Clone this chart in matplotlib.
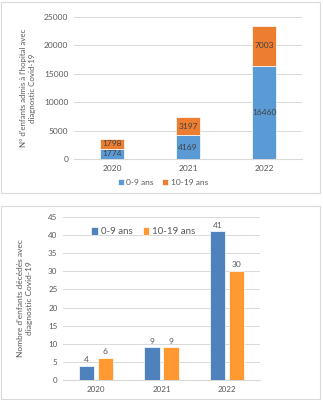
import matplotlib
matplotlib.use("Agg")
import matplotlib.pyplot as plt
import matplotlib.patches as mpatches
import numpy as np

plt.rcParams["font.family"] = ["Lato", "DejaVu Sans"]

years = ["2020", "2021", "2022"]
admis_0_9 = [1774, 4169, 16460]
admis_10_19 = [1798, 3197, 7003]
deces_0_9 = [4, 9, 41]
deces_10_19 = [6, 9, 30]
series_labels = ["0-9 ans", "10-19 ans"]

TXT = "#595959"
GRID = "#D9D9D9"

fig = plt.figure(figsize=(3.23, 4.0), dpi=100, facecolor="white")

# panel frames
for (x0, y0, x1, y1) in [(1, 2, 320, 193), (1, 206, 320, 399)]:
    fig.patches.append(mpatches.Rectangle(
        (x0 / 323, 1 - y1 / 400), (x1 - x0) / 323, (y1 - y0) / 400,
        transform=fig.transFigure, fill=False, edgecolor="#D9D9D9", lw=0.8))

# ── top: stacked bars ───────────────────────────────────────────────
ax1 = fig.add_axes([0.229, 0.6025, 0.706, 0.355])
x = np.arange(len(years))
c_blue, c_orange = "#5B9BD5", "#ED7D31"
b1 = ax1.bar(x, admis_0_9, 0.31, color=c_blue, edgecolor="white", lw=0.5,
             label=series_labels[0], zorder=3)
b2 = ax1.bar(x, admis_10_19, 0.31, bottom=admis_0_9, color=c_orange,
             edgecolor="white", lw=0.5, label=series_labels[1], zorder=3)
for bars in (b1, b2):
    for r in bars:
        ax1.text(r.get_x() + r.get_width() / 2, r.get_y() + r.get_height() / 2,
                 f"{int(r.get_height())}", ha="center", va="center",
                 fontsize=6, color="#404040", zorder=4)
ax1.set_ylim(0, 25000)
ax1.set_yticks(range(0, 25001, 5000))
ax1.set_xlim(-0.5, 2.5)
ax1.set_xticks(x)
ax1.set_xticklabels(years)
ax1.yaxis.grid(True, color=GRID, lw=0.7, zorder=0)
for s in ax1.spines.values():
    s.set_visible(False)
ax1.spines["bottom"].set_visible(True)
ax1.spines["bottom"].set_color(GRID)
ax1.tick_params(length=0, labelsize=6, labelcolor=TXT, pad=4)
ax1.set_ylabel("N° d'enfants admis à l'hopital avec\ndiagnostic Covid-19",
               fontsize=5.7, color=TXT, labelpad=6, linespacing=1.3)
ax1.legend(loc="upper center", bbox_to_anchor=(0.39, -0.09), ncol=2,
           frameon=False, fontsize=6, handlelength=0.7, handleheight=0.7,
           handletextpad=0.3, columnspacing=1.0, labelcolor=TXT)

# ── bottom: grouped bars ────────────────────────────────────────────
ax2 = fig.add_axes([0.195, 0.05, 0.61, 0.4075])
c_blue2, c_orange2 = "#4F81BD", "#FF9A33"
w = 0.23
d1 = ax2.bar(x - 0.145, deces_0_9, w, color=c_blue2, edgecolor="white",
             lw=0.5, label=series_labels[0], zorder=3)
d2 = ax2.bar(x + 0.145, deces_10_19, w, color=c_orange2, edgecolor="white",
             lw=0.5, label=series_labels[1], zorder=3)
for bars in (d1, d2):
    for r in bars:
        ax2.text(r.get_x() + r.get_width() / 2, r.get_height() + 0.8,
                 f"{int(r.get_height())}", ha="center", va="bottom",
                 fontsize=6, color=TXT, zorder=4)
ax2.set_ylim(0, 45)
ax2.set_yticks(range(0, 46, 5))
ax2.set_xlim(-0.5, 2.5)
ax2.set_xticks(x)
ax2.set_xticklabels(years)
ax2.yaxis.grid(True, color=GRID, lw=0.7, zorder=0)
for s in ax2.spines.values():
    s.set_visible(False)
ax2.spines["bottom"].set_visible(True)
ax2.spines["bottom"].set_color(GRID)
ax2.tick_params(length=0, labelsize=5.8, labelcolor=TXT, pad=4)
ax2.set_ylabel("Nombre d'enfants décédés avec\ndiagnostic Covid-19",
               fontsize=6, color=TXT, labelpad=11, linespacing=1.25)
ax2.legend(loc="upper left", bbox_to_anchor=(0.1, 0.995), ncol=2,
           frameon=False, fontsize=7, handlelength=0.7, handleheight=1.0,
           handletextpad=0.3, columnspacing=1.0, labelcolor=TXT)

fig.savefig("out.png", dpi=100, facecolor="white")
